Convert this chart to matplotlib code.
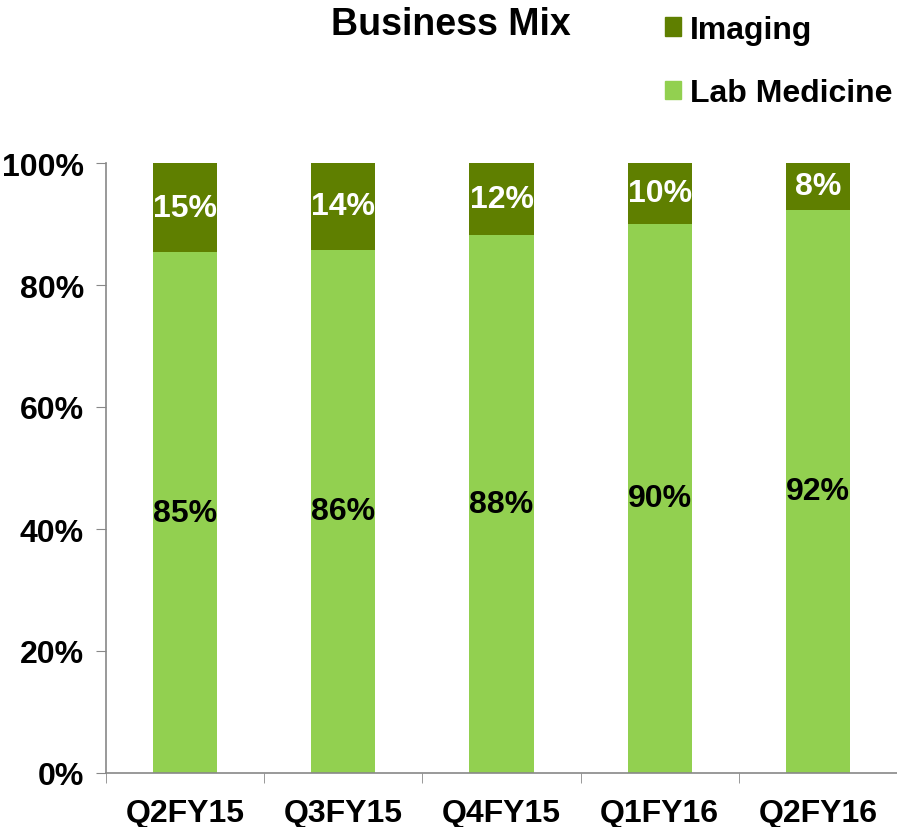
import matplotlib
matplotlib.use("Agg")
import matplotlib.pyplot as plt
from matplotlib.patches import Patch
import numpy as np

plt.rcParams['font.family'] = ['Liberation Sans', 'DejaVu Sans']
plt.rcParams['font.weight'] = 'bold'

# data
quarters = ["Q2FY15", "Q3FY15", "Q4FY15", "Q1FY16", "Q2FY16"]
lab_medicine = [85.4, 85.8, 88.2, 90.0, 92.3]
imaging = [100 - v for v in lab_medicine]
lab_labels = ["85%", "86%", "88%", "90%", "92%"]
img_labels = ["15%", "14%", "12%", "10%", "8%"]

dark = "#5f7f00"
light = "#92d050"

fig = plt.figure(figsize=(8.97, 8.28), dpi=100)
ax = fig.add_axes([106/897, 54/828, 791/897, 610/828])

x = np.arange(len(quarters))
ax.bar(x, lab_medicine, width=0.405, color=light, label="Lab Medicine")
ax.bar(x, imaging, bottom=lab_medicine, width=0.405, color=dark, label="Imaging")

for i in range(len(quarters)):
    ax.text(x[i], lab_medicine[i] / 2, lab_labels[i], ha="center", va="center",
            fontsize=23, fontweight="bold", color="black")
    ax.text(x[i], lab_medicine[i] + imaging[i] / 2, img_labels[i], ha="center", va="center",
            fontsize=23, fontweight="bold", color="white")

ax.set_xlim(-0.5, len(quarters) - 0.5)
ax.set_ylim(0, 100)
ax.set_yticks([0, 20, 40, 60, 80, 100])
ax.set_yticklabels(["0%", "20%", "40%", "60%", "80%", "100%"])
ax.set_xticks(x)
ax.set_xticklabels(quarters)
ax.set_xticks(np.arange(-0.5, len(quarters)), minor=True)
ax.tick_params(axis="x", which="major", length=0, pad=18, labelsize=23)
ax.tick_params(axis="x", which="minor", length=7, color="#888888", direction="out")
ax.tick_params(axis="y", length=7, color="#888888", direction="out", pad=9, labelsize=23)

for s in ["top", "right"]:
    ax.spines[s].set_visible(False)
for s in ["left", "bottom"]:
    ax.spines[s].set_color("#888888")
    ax.spines[s].set_linewidth(1.2)

fig.text(451/897, 1 - 25/828, "Business Mix", ha="center", va="center",
         fontsize=27, fontweight="bold")

handles = [Patch(color=dark, label="Imaging"), Patch(color=light, label="Lab Medicine")]
fig.legend(handles=handles, loc="upper left", bbox_to_anchor=(652/897, 1 - 3/828),
           frameon=False, fontsize=23, handlelength=0.5, handleheight=0.5,
           handletextpad=0.3, labelspacing=1.04, borderaxespad=0)

fig.savefig("out.png", dpi=100)
